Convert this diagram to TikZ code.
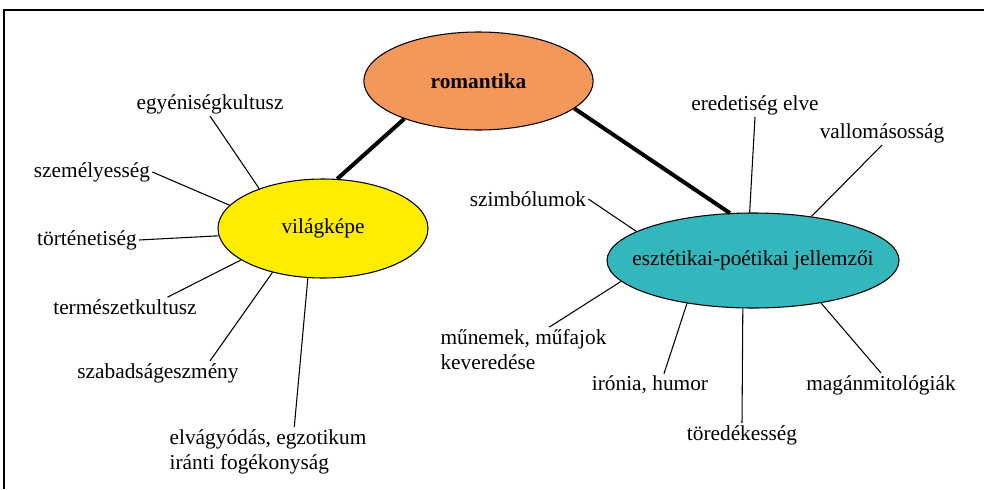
\documentclass[tikz,border=0pt]{standalone}
\usepackage{fontspec}
\setmainfont{Liberation Serif}
\usetikzlibrary{shapes.geometric}

\definecolor{romorange}{RGB}{244,151,90}
\definecolor{vilyellow}{RGB}{255,237,0}
\definecolor{eszteal}{RGB}{51,182,188}

\begin{document}
\begin{tikzpicture}[x=0.75pt,y=-0.75pt,
    hub/.style={ellipse,draw,line width=0.8pt,inner sep=0pt},
    leaf/.style={font=\fontsize{16}{18.8}\selectfont,inner sep=1.5pt,align=left},
    spoke/.style={line width=0.8pt},
    trunk/.style={line width=3pt}]

    \useasboundingbox (0,0) rectangle (984,489);

    % Frame, open at the right and at the bottom
    \draw[line width=1.5pt] (984,10) -- (4,10) -- (4,489);

    % The three ellipses
    \node[hub,fill=romorange,minimum width=172pt,minimum height=73.5pt,
          label={[name=romantxt,font=\fontsize{16}{19}\selectfont\bfseries]center:romantika}] (roman) at (478.5,81) {};
    \node[hub,fill=vilyellow,minimum width=157.5pt,minimum height=74.25pt,
          label={[name=vilagtxt,font=\fontsize{16}{19}\selectfont]center:világképe}] (vilag) at (323,228.5) {};
    \node[hub,fill=eszteal,minimum width=219pt,minimum height=71.25pt,
          label={[name=esztettxt,font=\fontsize{16}{19}\selectfont]center:esztétikai-poétikai jellemzői}] (esztet) at (753,260.5) {};

    % Labels round the left ellipse
    \node[leaf] (egyen) at (210,104) {egyéniségkultusz};
    \node[leaf] (szemely) at (92,172) {személyesség};
    \node[leaf] (tortenet) at (87,240) {történetiség};
    \node[leaf] (termeszet) at (125,307) {természetkultusz};
    \node[leaf] (szabad) at (158,373) {szabadságeszmény};
    \node[leaf] (elvagy) at (268,451.5) {elvágyódás, egzotikum\\iránti fogékonyság};

    % Labels round the right ellipse
    \node[leaf] (eredet) at (755,105) {eredetiség elve};
    \node[leaf] (vallom) at (882,133) {vallomásosság};
    \node[leaf] (szimb) at (528,199) {szimbólumok};
    \node[leaf] (munem) at (523.5,349.5) {műnemek, műfajok\\keveredése};
    \node[leaf] (ironia) at (650,385) {irónia, humor};
    \node[leaf] (tored) at (742,435) {töredékesség};
    \node[leaf] (magan) at (881,385) {magánmitológiák};

    % Thick connectors from the top ellipse
    \draw[trunk] (roman.207) -- (vilag.74);
    \draw[trunk] (roman.344.7) -- (esztet.116);

    % Thin spokes
    \foreach \leaf/\a/\b in {egyen/148/south, szemely/166/east, tortenet/184/east,
                             termeszet/201/13, szabad/221/13, elvagy/253/43} {
        \draw[spoke] (vilag.\a) -- (\leaf.\b);
    }
    \foreach \leaf/\a/\b in {eredet/94/south, vallom/37/south, szimb/166.5/east,
                             munem/189/41, ironia/213/39, tored/258/north, magan/328/north} {
        \draw[spoke] (esztet.\a) -- (\leaf.\b);
    }

\end{tikzpicture}
\end{document}
